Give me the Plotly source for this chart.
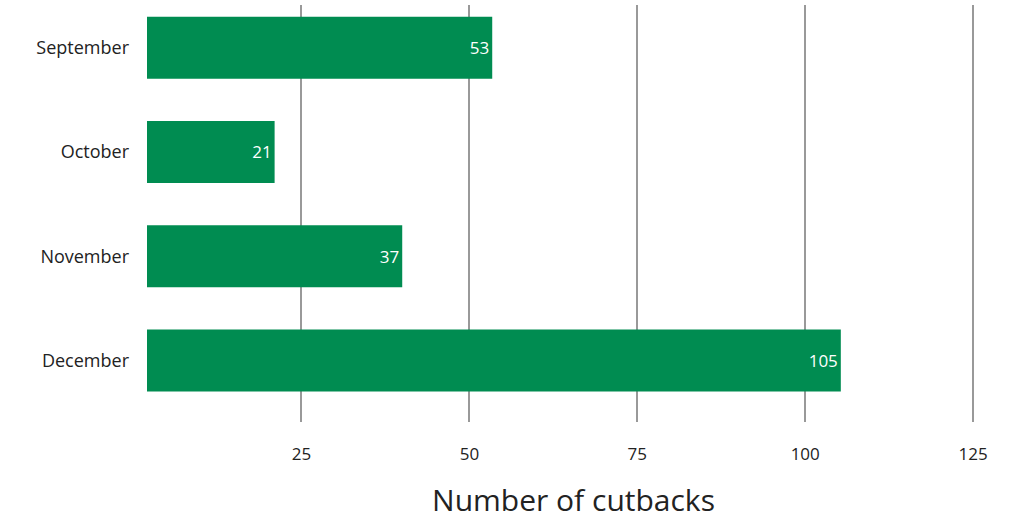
import plotly.graph_objects as go

months = ["September", "October", "November", "December"]
bar_lengths = [53.4, 21, 40, 105.3]
value_labels = ["53", "21", "37", "105"]
x_ticks = [25, 50, 75, 100, 125]

FONT = "Open Sans, sans-serif"

fig = go.Figure()
fig.add_trace(go.Bar(
    y=months,
    x=bar_lengths,
    orientation="h",
    width=0.595,
    marker=dict(color="#008C51", line=dict(width=0)),
    text=value_labels,
    textposition="inside",
    insidetextanchor="end",
    textfont=dict(color="white", size=17, family=FONT),
    hoverinfo="skip",
))

fig.update_layout(
    width=1020,
    height=520,
    margin=dict(l=147, r=20, t=5, b=98),
    plot_bgcolor="white",
    paper_bgcolor="white",
    showlegend=False,
    font=dict(family=FONT, color="#222222"),
    xaxis=dict(
        range=[2, 129],
        tickvals=x_ticks,
        ticktext=[str(v) for v in x_ticks],
        showgrid=True,
        gridcolor="#999999",
        gridwidth=2,
        zeroline=False,
        showline=False,
        ticks="",
        ticklabelstandoff=20,
        automargin=False,
        tickfont=dict(size=17, color="#222222"),
        title=dict(text="Number of cutbacks", font=dict(size=30, color="#222222"), standoff=26),
    ),
    yaxis=dict(
        type="category",
        categoryorder="array",
        categoryarray=months,
        range=[3.59, -0.41],
        showgrid=False,
        zeroline=False,
        showline=False,
        ticks="",
        ticklabelstandoff=17,
        automargin=False,
        tickfont=dict(size=18, color="#222222"),
    ),
)

fig.write_html(
    "out.html",
    config={"displayModeBar": False},
    post_script="document.body.style.margin='0';",
)
